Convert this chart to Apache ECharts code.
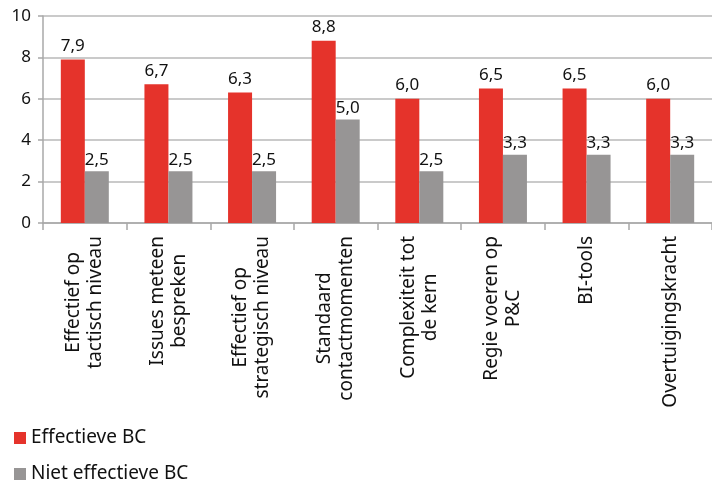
<!DOCTYPE html>
<html>
<head>
<meta charset="utf-8">
<script src="https://cdn.jsdelivr.net/npm/echarts@6/dist/echarts.min.js"></script>
<style>
  html, body { margin: 0; padding: 0; background: #fff; }
  #main { width: 712px; height: 480px; }
</style>
</head>
<body>
<div id="main"></div>
<script>
// categorieen (regelafbreking zoals in de bron)
var categories = [
    'Effectief op\ntactisch niveau',
    'Issues meteen\nbespreken',
    'Effectief op\nstrategisch niveau',
    'Standaard\ncontactmomenten',
    'Complexiteit tot\nde kern',
    'Regie voeren op\nP&C',
    'BI-tools',
    'Overtuigingskracht'
];
var effectief = [7.9, 6.7, 6.3, 8.8, 6.0, 6.5, 6.5, 6.0];
var nietEffectief = [2.5, 2.5, 2.5, 5.0, 2.5, 3.3, 3.3, 3.3];
var yTicks = [0, 2, 4, 6, 8, 10];

var fontName = 'Noto Sans';
var myChart = echarts.init(document.getElementById('main'));

function labelFmt(p) {
    return p.value.toFixed(1).replace('.', ',');
}

var option = {
    animation: false,
    textStyle: { fontFamily: fontName, color: '#111' },
    grid: { left: 43, top: 16, right: -3, bottom: 257, containLabel: false },
    legend: {
        orient: 'vertical',
        left: 9,
        top: 422,
        height: 120,
        itemWidth: 12,
        itemHeight: 12,
        itemGap: 14,
        icon: 'rect',
        textStyle: { fontFamily: fontName, fontSize: 19, lineHeight: 22, color: '#111' },
        data: ['Effectieve BC', 'Niet effectieve BC']
    },
    xAxis: {
        type: 'category',
        data: categories,
        axisLine: { lineStyle: { color: '#a8a8a8', width: 1.5 } },
        axisTick: { show: true, length: 7, lineStyle: { color: '#a8a8a8', width: 1.5 } },
        axisLabel: {
            rotate: 90,
            interval: 0,
            margin: 13,
            formatter: function (v) {
                return v.split('\n').map(function (s) { return '{c|' + s + '}'; }).join('\n');
            },
            rich: {
                c: { fontFamily: fontName, fontSize: 19, color: '#111', align: 'center', lineHeight: 22 }
            }
        }
    },
    yAxis: {
        type: 'value',
        min: yTicks[0],
        max: yTicks[yTicks.length - 1],
        interval: 2,
        axisLine: { show: true, lineStyle: { color: '#a8a8a8', width: 1.5 } },
        axisTick: { show: true, length: 5, lineStyle: { color: '#a8a8a8', width: 1.5 } },
        axisLabel: { margin: 12, fontFamily: fontName, fontSize: 17, color: '#111' },
        splitLine: { lineStyle: { color: '#b8b8b8', width: 1.5 } }
    },
    series: [
        {
            name: 'Effectieve BC',
            type: 'bar',
            data: effectief,
            barWidth: 24,
            barGap: '0%',
            itemStyle: { color: '#e5332b' },
            label: {
                show: true, position: 'top', distance: 5,
                fontFamily: fontName, fontSize: 17, color: '#111',
                formatter: labelFmt
            }
        },
        {
            name: 'Niet effectieve BC',
            type: 'bar',
            data: nietEffectief,
            barWidth: 24,
            itemStyle: { color: '#979595' },
            label: {
                show: true, position: 'top', distance: 3,
                fontFamily: fontName, fontSize: 17, color: '#111',
                formatter: labelFmt
            }
        }
    ]
};

myChart.setOption(option);
</script>
</body>
</html>
